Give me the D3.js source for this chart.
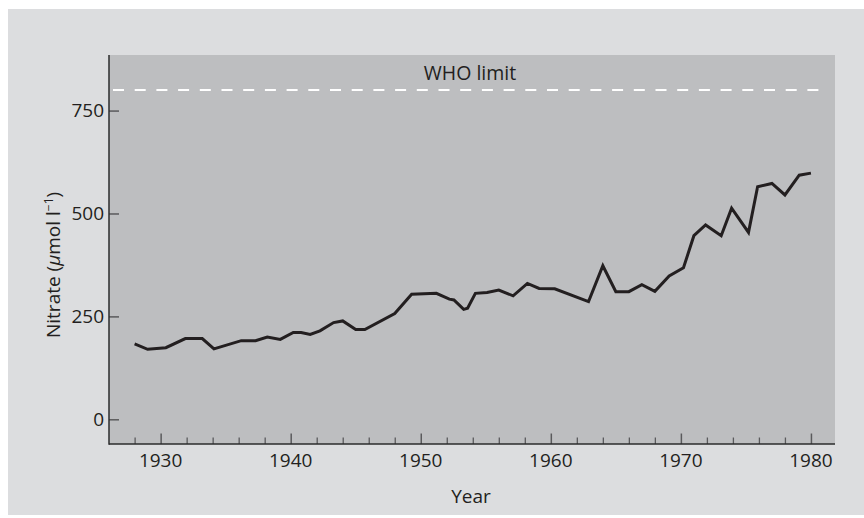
<!DOCTYPE html>
<html>
<head>
<meta charset="utf-8">
<script src="https://cdn.jsdelivr.net/npm/d3@7"></script>
<style>
  html, body { margin: 0; padding: 0; background: #ffffff; }
  svg { display: block; }
  text { font-family: "Open Sans", "Noto Sans", sans-serif; fill: #231f20; }
</style>
</head>
<body>
<svg id="chart" width="864" height="518"></svg>
<script>
// ---- data ----
const years = [1928, 1929, 1930.4, 1931.9, 1933.2, 1934.1, 1936.2, 1937.3, 1938.2, 1939.2,
               1940.2, 1940.8, 1941.5, 1942.25, 1943.3, 1944.0, 1945.0, 1945.7, 1948.0, 1949.3,
               1951.2, 1952.2, 1952.55, 1953.3, 1953.6, 1954.2, 1955.1, 1956.0, 1957.1, 1958.2,
               1959.1, 1960.3, 1962.9, 1964, 1965, 1966, 1967, 1968, 1969.1, 1970.2,
               1971, 1971.9, 1973.1, 1973.9, 1975.2, 1975.9, 1977, 1978, 1979.1, 1980];
const nitrate = [183, 170, 174, 196, 196, 171, 191, 191, 200, 194,
                 211, 211, 206, 215, 235, 239, 218, 218, 257, 304,
                 306, 292, 290, 267, 270, 306, 308, 314, 300, 330,
                 318, 317, 286, 373, 310, 310, 327, 311, 348, 368,
                 446, 472, 446, 513, 454, 565, 573, 545, 593, 598];
const whoLimit = 800;
const whoLabel = "WHO limit";
const yTicks = [0, 250, 500, 750];
const xMajorTicks = [1930, 1940, 1950, 1960, 1970, 1980];
const xMinorTicks = [1928, 1932, 1934, 1936, 1938, 1942, 1944, 1946, 1948, 1952, 1954, 1956, 1958,
                     1962, 1964, 1966, 1968, 1972, 1974, 1976, 1978];
const xTitle = "Year";

// ---- layout ----
const W = 864, H = 518;
const plot = { left: 109, right: 835, top: 55, bottom: 444 };

const svg = d3.select("#chart");

// outer panel
svg.append("rect").attr("x", 8).attr("y", 9).attr("width", W - 8).attr("height", 506)
  .attr("fill", "#dcdddf");
// plot area
svg.append("rect").attr("x", plot.left).attr("y", plot.top)
  .attr("width", plot.right - plot.left).attr("height", plot.bottom - plot.top)
  .attr("fill", "#bdbec0");

const x = d3.scaleLinear().domain([1926.03, 1981.85]).range([plot.left, plot.right]);
const y = d3.scaleLinear().domain([-60, 885]).range([plot.bottom, plot.top]);

// WHO limit dashed line
svg.append("line")
  .attr("x1", plot.left + 4).attr("x2", plot.right - 9)
  .attr("y1", y(whoLimit)).attr("y2", y(whoLimit))
  .attr("stroke", "#ffffff").attr("stroke-width", 2)
  .attr("stroke-dasharray", "11,10.7");
svg.append("text")
  .attr("x", (plot.left + plot.right) / 2 - 2).attr("y", 80)
  .attr("text-anchor", "middle").attr("font-size", 19.5)
  .text(whoLabel);

// Y axis (ticks inside)
const yAxis = d3.axisRight(y).tickValues(yTicks).tickSize(10).tickFormat(() => "");
const gy = svg.append("g").attr("transform", `translate(${plot.left},0)`).call(yAxis);
gy.select(".domain").remove();
gy.selectAll(".tick line").attr("stroke", "#5a5a5c").attr("stroke-width", 1.5);
// Y tick labels
svg.append("g").selectAll("text").data(yTicks).join("text")
  .attr("x", 104).attr("y", d => y(d)).attr("dy", "0.36em")
  .attr("text-anchor", "end").attr("font-size", 19)
  .text(d => d);

// X axis ticks (inside)
const xMajor = d3.axisTop(x).tickValues(xMajorTicks).tickSize(10.5).tickFormat(() => "");
const gxM = svg.append("g").attr("transform", `translate(0,${plot.bottom})`).call(xMajor);
gxM.select(".domain").remove();
gxM.selectAll(".tick line").attr("stroke", "#5a5a5c").attr("stroke-width", 1.5);
const xMinor = d3.axisTop(x).tickValues(xMinorTicks).tickSize(6.5).tickFormat(() => "");
const gxm = svg.append("g").attr("transform", `translate(0,${plot.bottom})`).call(xMinor);
gxm.select(".domain").remove();
gxm.selectAll(".tick line").attr("stroke", "#5a5a5c").attr("stroke-width", 1.3);
// X tick labels
svg.append("g").selectAll("text").data(xMajorTicks).join("text")
  .attr("x", d => x(d)).attr("y", 467)
  .attr("text-anchor", "middle").attr("font-size", 19)
  .text(d => d);

// axis lines
svg.append("line").attr("x1", plot.left).attr("x2", plot.left)
  .attr("y1", plot.top).attr("y2", plot.bottom + 0.75)
  .attr("stroke", "#2b2b2d").attr("stroke-width", 1.5);
svg.append("line").attr("x1", plot.left).attr("x2", plot.right)
  .attr("y1", plot.bottom).attr("y2", plot.bottom)
  .attr("stroke", "#2b2b2d").attr("stroke-width", 1.5);

// axis titles
svg.append("text")
  .attr("x", (plot.left + plot.right) / 2 - 1).attr("y", 503)
  .attr("text-anchor", "middle").attr("font-size", 19)
  .text(xTitle);

const yt = svg.append("text")
  .attr("transform", `translate(60,${(y(0) + y(750)) / 2}) rotate(-90)`)
  .attr("text-anchor", "middle").attr("font-size", 19);
yt.append("tspan").text("Nitrate (");
yt.append("tspan").attr("font-style", "italic").text("\u03bc");
yt.append("tspan").text("mol l");
yt.append("tspan").attr("font-size", 12).attr("dy", "-0.6em").text("\u22121");
yt.append("tspan").attr("dy", "0.38em").text(")");

// data line
const pts = years.map((yr, i) => [yr, nitrate[i]]);
svg.append("path").datum(pts)
  .attr("fill", "none").attr("stroke", "#231f20").attr("stroke-width", 3)
  .attr("stroke-linejoin", "miter")
  .attr("d", d3.line().x(d => x(d[0])).y(d => y(d[1])));
</script>
</body>
</html>
